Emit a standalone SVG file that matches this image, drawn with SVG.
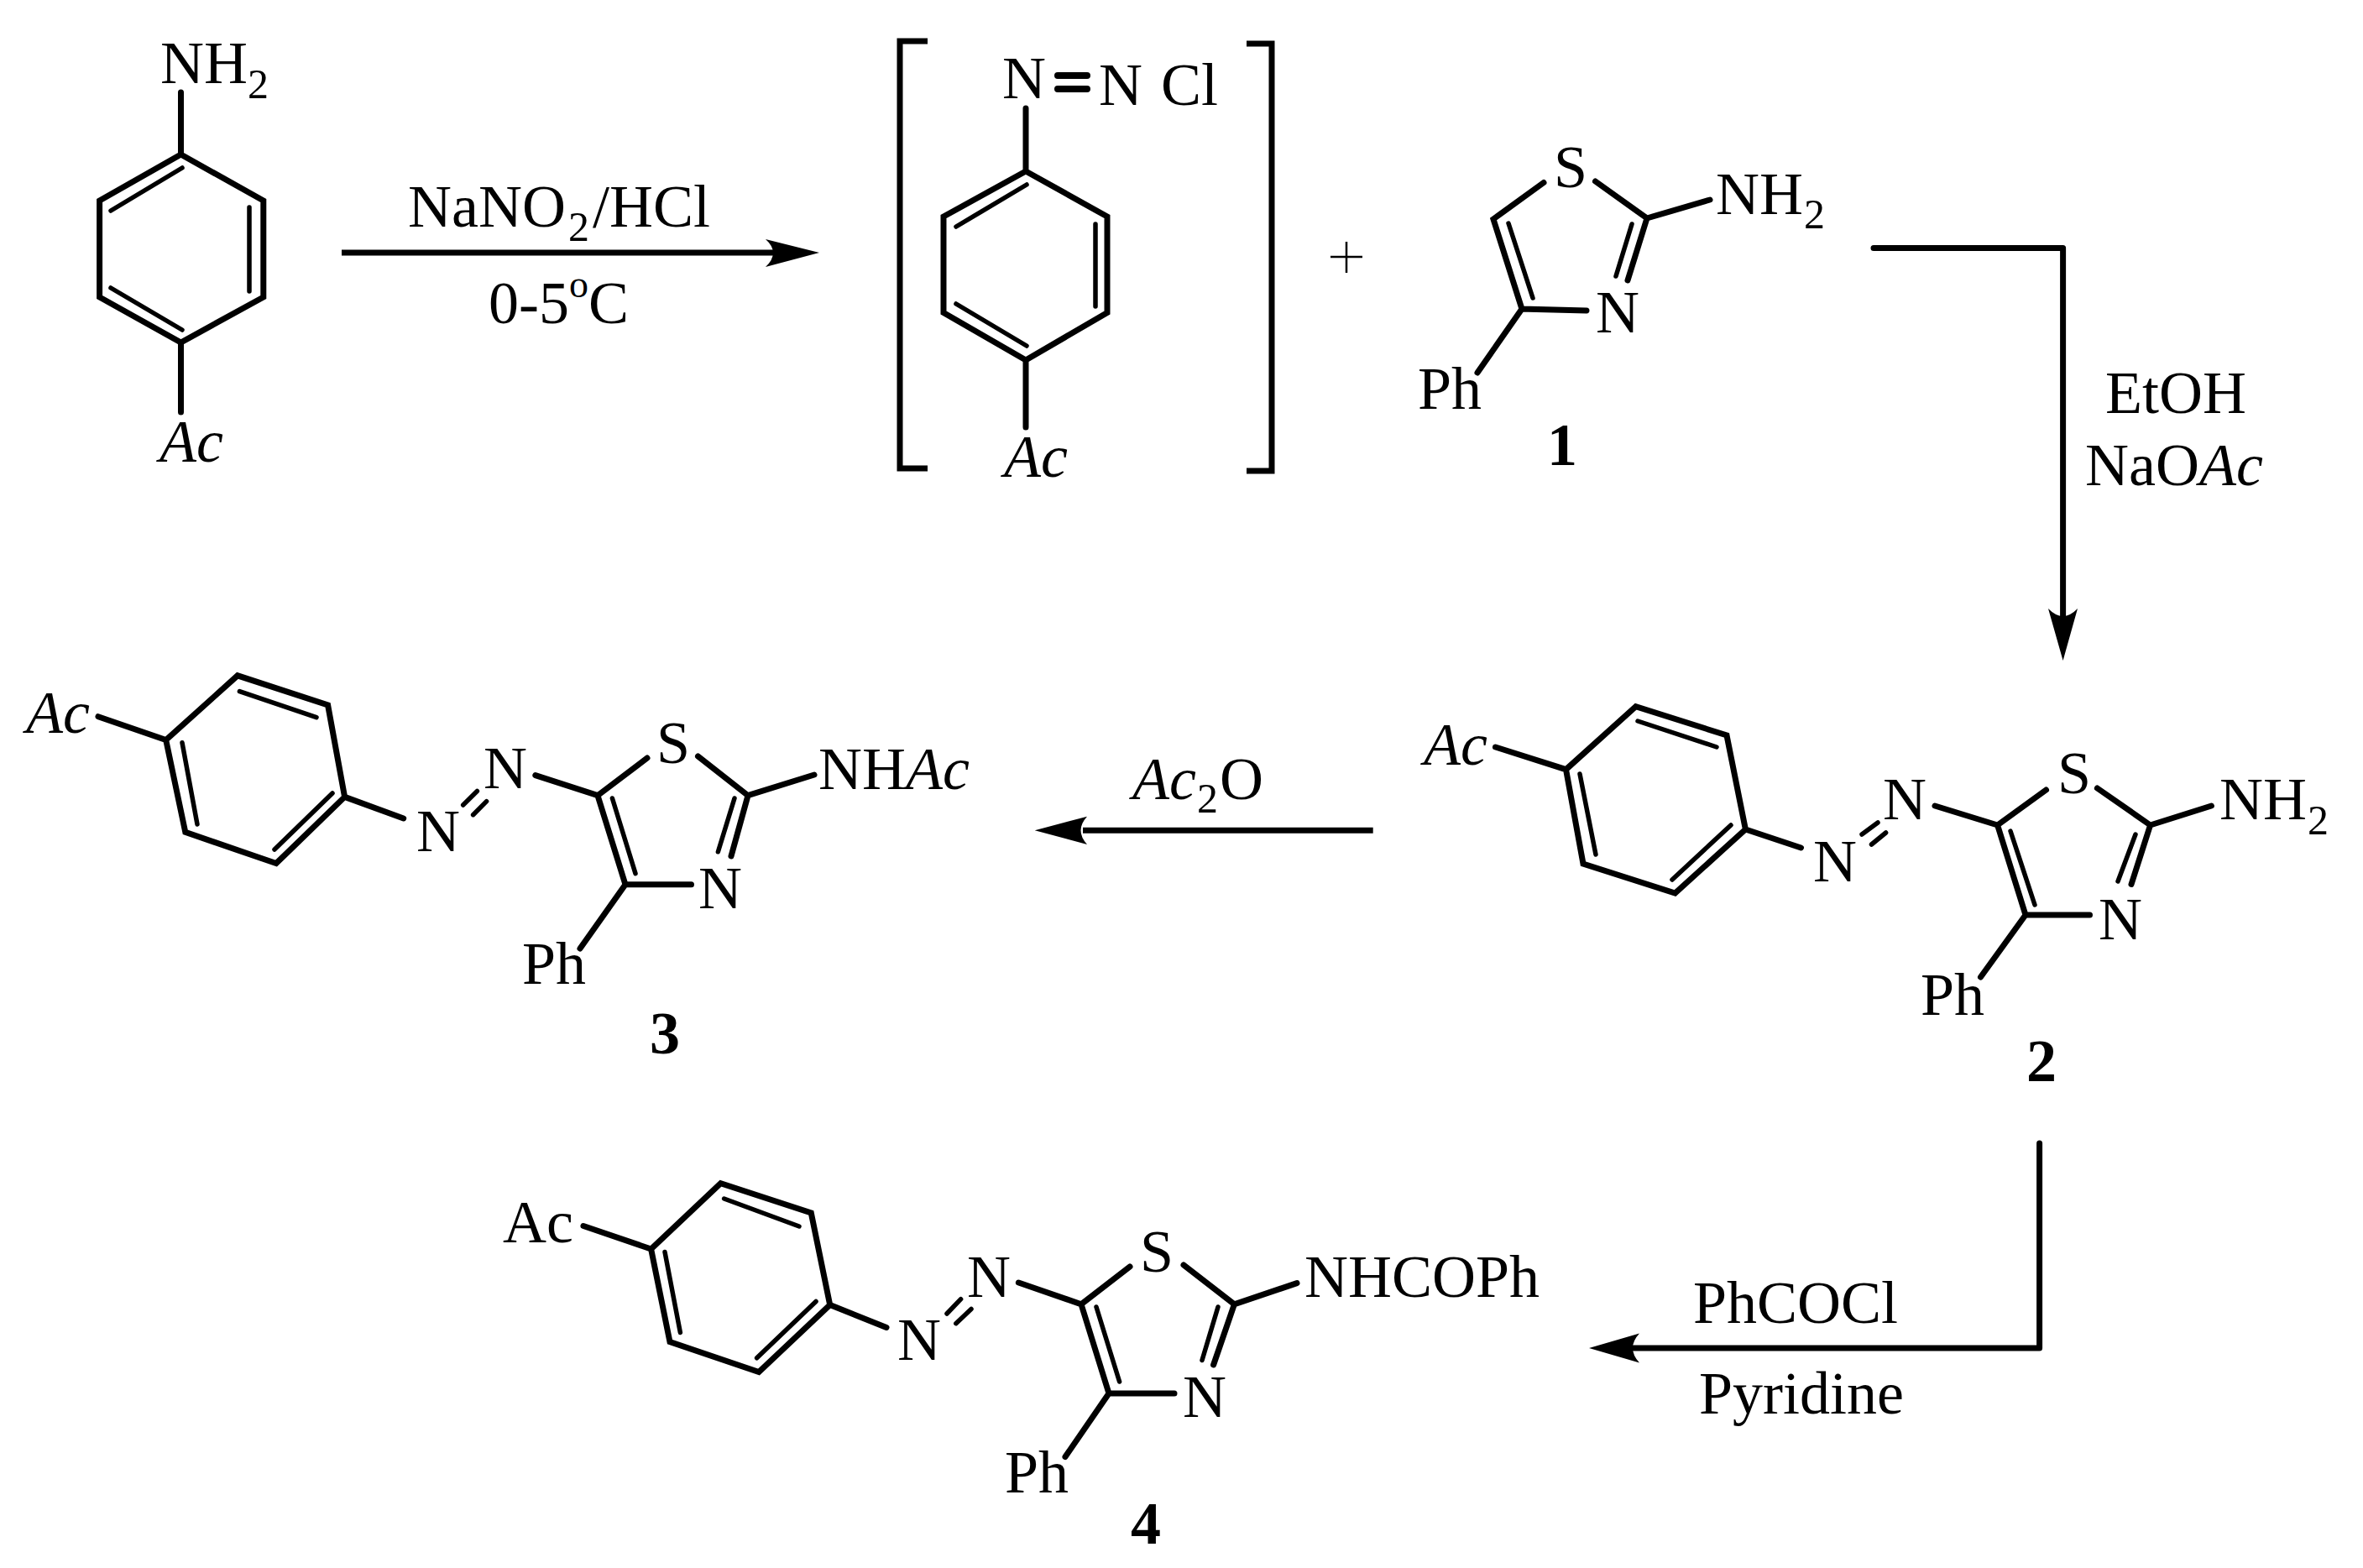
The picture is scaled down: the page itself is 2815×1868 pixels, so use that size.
<svg xmlns="http://www.w3.org/2000/svg" width="2815" height="1868" viewBox="0 0 2815 1868">
<style>
text{font-family:"Liberation Serif","Times New Roman",serif;font-size:72px;fill:#000}
.sub{font-size:50px}
.sup{font-size:46px}
.b{font-weight:bold}
.i{font-style:italic}
.bond{fill:none;stroke:#000;stroke-width:7;stroke-linecap:round;stroke-linejoin:miter}
.in{fill:none;stroke:#000;stroke-width:5.500;stroke-linecap:round}
.brk{fill:none;stroke:#000;stroke-width:7;stroke-linecap:butt;stroke-linejoin:miter}
.arr{fill:none;stroke:#000;stroke-width:7;stroke-linecap:round;stroke-linejoin:round}
.head{fill:#000}
</style>
<rect width="2815" height="1868" fill="#fff"/>
<g id="aniline">
<path class="bond" d="M215.500 110V184L313.800 239V354L215.500 408L118.600 354V239L215.500 184M215.500 408V491"/>
<path class="in" d="M132 251L217 200M297 247V347M132 343L217 393"/>
<text x="191" y="99">NH</text><text class="sub" x="295" y="117">2</text>
<text class="i" x="190" y="550">Ac</text>
</g>
<g id="diazonium">
<path class="brk" d="M1105 49H1072V558H1105M1485 52H1515V561H1485"/>
<path class="bond" d="M1222 129V204L1319 258V372.500L1222 429L1124 372.500V258L1222 204M1222 429V509"/>
<path class="in" d="M1139 270L1223 220M1305 267V365M1139 362L1223 412"/>
<path class="bond" style="stroke-width:8" d="M1260 90H1295M1260 106H1295"/>
<text x="1194" y="117">N</text><text x="1309" y="125">N</text><text x="1383" y="125">Cl</text>
<text class="i" x="1196" y="568">Ac</text>
</g>
<g id="plus"><path d="M1585 306H1623M1604 288V325" stroke="#000" stroke-width="2.500" fill="none"/></g>
<g id="compound1">
<path class="bond" d="M1839 217.500L1779 261L1813 368L1890 370M1900.500 216L1962 260L1939 334M1962 260L2037 238M1813 368L1760 444"/>
<path class="in" d="M1797 266L1826 355M1944 267L1925 329"/>
<text x="1851" y="223">S</text><text x="1901" y="396">N</text><text x="2044" y="255">NH</text><text class="sub" x="2149" y="272">2</text>
<text x="1689" y="487">Ph</text><text class="b" x="1843" y="554">1</text>
</g>
<g id="compound2">
<path class="bond" d="M1781.500 890L1865.500 916.700L1948.700 841.600L2057 876L2079.400 988L1995.500 1064L1886 1029L1865.500 916.700M2079.400 988L2145.500 1010M2305 960L2379.600 983L2437.500 941M2498.400 939L2561.600 983L2634.400 960M2379.600 983L2413 1090L2489.500 1090M2561.600 983L2539 1053.500M2413 1090L2359.500 1164"/>
<path class="in" d="M1951 859L2045 890M2062 983L1992 1048M1882 922L1901 1018M2218 994L2237 980M2229.500 1006L2246.600 992M2395 990L2424 1078M2544 994L2523 1050"/>
<text class="i" x="1696" y="911">Ac</text><text x="2160" y="1050">N</text><text x="2243" y="976">N</text><text x="2451" y="945">S</text>
<text x="2644" y="976">NH</text><text class="sub" x="2749" y="994">2</text><text x="2500" y="1119">N</text><text x="2288" y="1209">Ph</text>
<text class="b" x="2414" y="1288">2</text>
</g>
<g id="compound3">
<path class="bond" d="M117 853.700L197.700 881.600L283 804.800L390.600 840L410.600 949.400L329 1028.600L220.800 991.400L197.700 881.600M410.600 949.400L480.700 975M637.800 923.600L712 947.700L771 903M831.500 901L891 947.700L970 923M712 947.700L745 1053.700L823.500 1053.700M891 947.700L871 1020M745 1053.700L691 1130"/>
<path class="in" d="M285.400 823.700L377 854.700M396 945L327 1012M217 884.700L235 982M568.400 942.500L551.700 959M579.600 954.600L563.600 970.700M729.400 951L757 1040.600M875 951L855.400 1014.800"/>
<text class="i" x="31" y="873">Ac</text><text x="496" y="1014">N</text><text x="576" y="939">N</text><text x="782" y="909">S</text>
<text x="975" y="940">NH<tspan class="i">Ac</tspan></text><text x="832" y="1082">N</text><text x="622" y="1172">Ph</text>
<text class="b" x="774" y="1255">3</text>
</g>
<g id="compound4">
<path class="bond" d="M695 1460.500L775.600 1488L858.500 1409.700L966.300 1445L988.700 1554.500L904 1634.600L798 1598.600L775.600 1488M988.700 1554.500L1056 1581.400M1213.400 1528L1288 1553.800L1346 1509M1410 1507L1470.400 1553.800L1545 1528.600M1288 1553.800L1321 1660L1399 1660M1470.400 1553.800L1445.600 1626M1321 1660L1269 1735.600"/>
<path class="in" d="M862.600 1428L952 1461M972 1550.400L901.600 1617.800M792 1491.500L810.400 1587.500M1144.600 1547.700L1128 1565M1157 1559.500L1138.800 1576.700M1306 1557L1333.600 1646M1451 1557L1432 1620.500"/>
<text x="599" y="1480">Ac</text><text x="1069" y="1620">N</text><text x="1152" y="1545">N</text><text x="1358" y="1515">S</text>
<text x="1554" y="1545">NHCOPh</text><text x="1409" y="1688">N</text><text x="1197" y="1778">Ph</text>
<text class="b" x="1347" y="1839">4</text>
</g>
<g id="connectors">
<path class="arr" d="M407 301H925" style="stroke-linecap:butt"/><path class="head" d="M976 301L912 285Q930 301 912 318Z"/>
<path class="arr" d="M2232 295.600H2457.600V735"/><path class="head" d="M2457.600 787L2440 725Q2457.600 743 2475 725Z"/>
<path class="arr" d="M1635.700 989.300H1290" style="stroke-linecap:butt"/><path class="head" d="M1232.700 989.300L1295 972.700Q1280 989.300 1295 1006Z"/>
<path class="arr" d="M2429.600 1362V1606H1945"/><path class="head" d="M1893 1606L1953 1588.500Q1937 1606 1953 1623.500Z"/>
</g>
<g id="labels">
<text x="486" y="270">NaNO</text><text class="sub" x="677" y="287">2</text><text x="706" y="270">/HCl</text>
<text x="582" y="385">0-5</text><text class="sup" x="678" y="354">o</text><text x="701" y="385">C</text>
<text x="2508" y="492">EtOH</text><text x="2484" y="578">NaO<tspan class="i">Ac</tspan></text>
<text class="i" x="1349" y="952">Ac</text><text class="sub" x="1426" y="968">2</text><text x="1453" y="952">O</text>
<text x="2017" y="1576">PhCOCl</text><text x="2024" y="1684">Pyridine</text>
</g>
</svg>
